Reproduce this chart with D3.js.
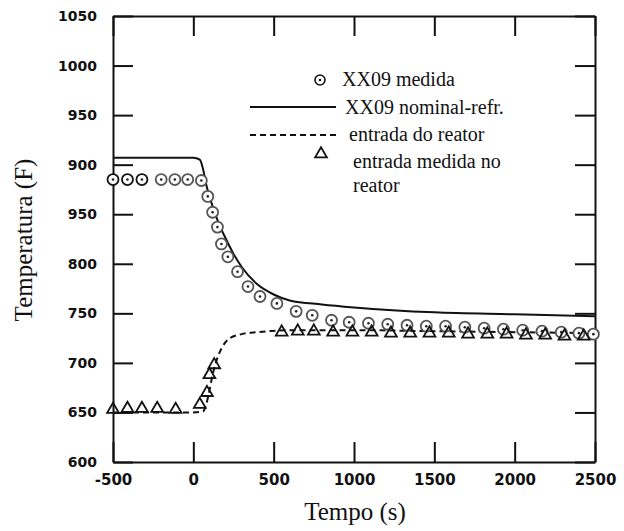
<!DOCTYPE html>
<html>
<head>
<meta charset="utf-8">
<script src="https://cdn.jsdelivr.net/npm/d3@7"></script>
<style>
  body { margin: 0; background: #fff; }
  .tick text { font-family: "DejaVu Sans", sans-serif; font-weight: bold; fill: #111; }
  .lbl { font-family: "Liberation Serif", "Times New Roman", serif; fill: #111; }
</style>
</head>
<body>
<script>
// temperature transient: reactor outlet (XX09) and reactor inlet

// XX09 nominal-refr. (solid line)
var nomTime = [-500, 0, 40, 60, 80, 120, 160, 200, 250, 300, 400, 500, 600, 800, 1000, 1500, 2000, 2500];
var nomTemp = [907, 907, 905, 896, 880, 858, 840, 826, 810, 797, 779, 769, 763, 759, 756, 751, 749, 747];

// entrada do reator (dashed line)
var inTime = [-500, 0, 60, 80, 100, 120, 150, 180, 220, 300, 400, 600, 1000, 1500, 2000, 2500];
var inTemp = [650, 650, 651, 658, 672, 688, 705, 716, 724, 729, 731, 733, 733, 732, 731, 730];

// XX09 medida (circles)
var measTime = [-500, -410, -320, -200, -115, -35, 50, 90, 120, 150, 175, 215, 275, 340, 415, 520, 640, 740,
  860, 970, 1090, 1210, 1330, 1450, 1570, 1690, 1810, 1930, 2050, 2170, 2290, 2400, 2490];
var measTemp = [885, 885, 885, 885, 885, 885, 884, 868, 852, 837, 820, 807, 792, 777, 767, 760, 752, 748,
  743, 741, 740, 739, 738, 737, 737, 736, 735, 734, 733, 732, 731, 730, 729];

// entrada medida no reator (triangles)
var inMeasTime = [-500, -410, -320, -225, -110, 40, 85, 100, 130, 550, 650, 750, 870, 990, 1110, 1230, 1350,
  1470, 1590, 1710, 1830, 1950, 2070, 2190, 2310, 2430];
var inMeasTemp = [653, 654, 654, 654, 653, 658, 670, 688, 698, 731, 732, 732, 731, 731, 731, 730, 730,
  730, 730, 729, 729, 729, 728, 728, 727, 727];

var xTicks = [-500, 0, 500, 1000, 1500, 2000, 2500];
var xTickLabels = ["-500", "0", "500", "1000", "1500", "2000", "2500"];
var yTicks = [600, 650, 700, 750, 800, 850, 900, 950, 1000, 1050];
var yTickLabels = ["600", "650", "700", "750", "800", "950", "900", "950", "1000", "1050"];

var width = 624, height = 531;

var svg = d3.select("body").append("svg")
  .attr("width", width)
  .attr("height", height);

var x = d3.scaleLinear().domain([-500, 2500]).range([113, 595]);
var y = d3.scaleLinear().domain([600, 1050]).range([462, 16]);

function zip(a, b) { return a.map(function(d, i) { return [d, b[i]]; }); }

var line = d3.line()
  .x(function(d) { return x(d[0]); })
  .y(function(d) { return y(d[1]); })
  .curve(d3.curveMonotoneX);

// axes, ticks pointing inward
function styleAxis(g) {
  g.selectAll("path, line").attr("stroke", "#111").attr("stroke-width", 2);
}

svg.append("g")
  .attr("transform", "translate(0," + y(600) + ")")
  .call(d3.axisBottom(x).tickValues(xTicks).tickSizeInner(-20).tickSizeOuter(0).tickPadding(12)
    .tickFormat(function(d, i) { return xTickLabels[i]; }))
  .call(styleAxis)
  .selectAll("text").style("font-size", "15px");

svg.append("g")
  .attr("transform", "translate(" + x(-500) + ",0)")
  .call(d3.axisLeft(y).tickValues(yTicks).tickSizeInner(-20).tickSizeOuter(0).tickPadding(16)
    .tickFormat(function(d, i) { return yTickLabels[i]; }))
  .call(styleAxis)
  .selectAll("text").style("font-size", "14px");

svg.append("g")
  .attr("transform", "translate(0," + y(1050) + ")")
  .call(d3.axisTop(x).tickValues(xTicks).tickSizeInner(-20).tickSizeOuter(0).tickFormat(""))
  .call(styleAxis);

svg.append("g")
  .attr("transform", "translate(" + x(2500) + ",0)")
  .call(d3.axisRight(y).tickValues(yTicks).tickSizeInner(-20).tickSizeOuter(0).tickFormat(""))
  .call(styleAxis);

// lines
svg.append("path")
  .datum(zip(nomTime, nomTemp))
  .attr("fill", "none")
  .attr("stroke", "#111")
  .attr("stroke-width", 2)
  .attr("d", line);

svg.append("path")
  .datum(zip(inTime, inTemp))
  .attr("fill", "none")
  .attr("stroke", "#111")
  .attr("stroke-width", 2)
  .attr("stroke-dasharray", "6,4")
  .attr("d", line);

// measured outlet: circles with a dot
var circ = svg.append("g").selectAll("g")
  .data(zip(measTime, measTemp))
  .enter().append("g")
  .attr("transform", function(d) { return "translate(" + x(d[0]) + "," + y(d[1]) + ")"; });

circ.append("circle")
  .attr("r", 5.5)
  .attr("fill", "#fff")
  .attr("stroke", function(d, i) { return i < 3 ? "#111" : "#555"; })
  .attr("stroke-width", 1.8);

circ.append("circle")
  .attr("r", 1.3)
  .attr("fill", "#222");

// measured inlet: open triangles
var tri = d3.symbol().type(d3.symbolTriangle).size(60);

svg.append("g").selectAll("path")
  .data(zip(inMeasTime, inMeasTemp))
  .enter().append("path")
  .attr("d", tri)
  .attr("transform", function(d) { return "translate(" + x(d[0]) + "," + y(d[1]) + ")"; })
  .attr("fill", "none")
  .attr("stroke", "#111")
  .attr("stroke-width", 1.8);

// legend
var lg = svg.append("g");

var lc = lg.append("g").attr("transform", "translate(320,80)");
lc.append("circle").attr("r", 5).attr("fill", "#fff").attr("stroke", "#111").attr("stroke-width", 1.6);
lc.append("circle").attr("r", 1.3).attr("fill", "#111");
lg.append("text").attr("class", "lbl").attr("x", 342).attr("y", 86)
  .style("font-size", "20px").text("XX09 medida");

lg.append("line").attr("x1", 250).attr("x2", 336).attr("y1", 107).attr("y2", 107)
  .attr("stroke", "#111").attr("stroke-width", 2);
lg.append("text").attr("class", "lbl").attr("x", 345).attr("y", 114)
  .style("font-size", "20px").text("XX09 nominal-refr.");

lg.append("line").attr("x1", 250).attr("x2", 340).attr("y1", 135).attr("y2", 135)
  .attr("stroke", "#111").attr("stroke-width", 2).attr("stroke-dasharray", "6,4");
lg.append("text").attr("class", "lbl").attr("x", 349).attr("y", 141)
  .style("font-size", "20px").text("entrada do reator");

lg.append("path").attr("d", tri).attr("transform", "translate(321,154)")
  .attr("fill", "none").attr("stroke", "#111").attr("stroke-width", 1.8);
lg.append("text").attr("class", "lbl").attr("x", 353).attr("y", 168)
  .style("font-size", "20px").text("entrada medida no");
lg.append("text").attr("class", "lbl").attr("x", 353).attr("y", 192)
  .style("font-size", "20px").text("reator");

// axis titles
svg.append("text").attr("class", "lbl")
  .attr("x", 355).attr("y", 520)
  .attr("text-anchor", "middle")
  .style("font-size", "25px")
  .text("Tempo (s)");

svg.append("text").attr("class", "lbl")
  .attr("transform", "translate(32,240) rotate(-90)")
  .attr("text-anchor", "middle")
  .style("font-size", "25px")
  .text("Temperatura (F)");
</script>
</body>
</html>
